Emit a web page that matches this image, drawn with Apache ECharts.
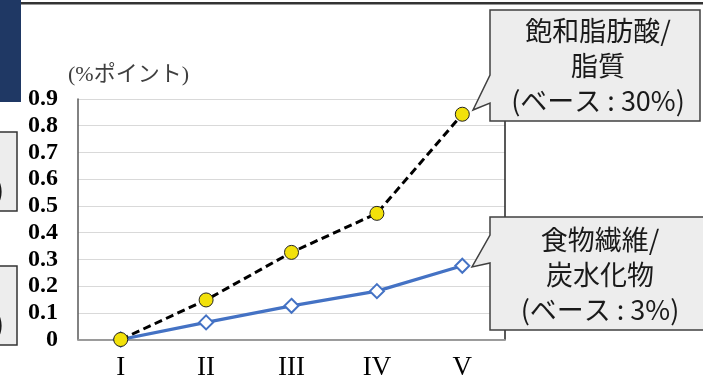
<!DOCTYPE html>
<html>
<head>
<meta charset="utf-8">
<script src="https://cdn.jsdelivr.net/npm/echarts@6/dist/echarts.min.js"></script>
<style>
  html, body { margin: 0; padding: 0; background: #fff; }
  #chart { width: 703px; height: 382px; }
</style>
</head>
<body>
<div id="chart"></div>
<script>
// Quintile categories and the two series (percentage-point change)
const categories = ['I', 'II', 'III', 'IV', 'V'];
const satFatShare = [0, 0.148, 0.326, 0.472, 0.843];   // 飽和脂肪酸/脂質
const fiberShare = [0, 0.064, 0.126, 0.181, 0.276];    // 食物繊維/炭水化物
const yTicks = { min: 0, max: 0.9, step: 0.1 };
const unitLabel = '(%ポイント)';
const calloutFat = '飽和脂肪酸/\n脂質\n(ベース : 30%)';
const calloutFiber = '食物繊維/\n炭水化物\n(ベース : 3%)';

const chart = echarts.init(document.getElementById('chart'));

const calloutStyle = { fill: '#EDEDED', stroke: '#404040', lineWidth: 1.5 };
const textStyle = {
  fontFamily: '"Noto Sans CJK JP", sans-serif',
  fontSize: 27,
  lineHeight: 35,
  fill: '#1a1a1a',
  align: 'center',
  verticalAlign: 'middle'
};

chart.setOption({
  animation: false,
  grid: { left: 78, top: 99, right: 198, bottom: 42.5, containLabel: false },
  xAxis: [{
    type: 'category',
    data: categories,
    boundaryGap: true,
    axisLine: { lineStyle: { color: '#8c8c8c', width: 1.5 } },
    axisTick: { show: false },
    axisLabel: {
      fontFamily: '"Liberation Serif", serif',
      fontSize: 27,
      color: '#000',
      margin: 15
    }
  }, {
    type: 'category',
    data: categories,
    position: 'top',
    boundaryGap: true,
    axisLine: { lineStyle: { color: '#999', width: 1.5 } },
    axisTick: { show: false },
    axisLabel: { show: false }
  }],
  yAxis: [{
    type: 'value',
    min: yTicks.min,
    max: yTicks.max,
    interval: yTicks.step,
    axisLine: { show: true, lineStyle: { color: '#595959', width: 1.5 } },
    axisTick: { show: false },
    splitLine: { lineStyle: { color: '#D9D9D9', width: 1.2 } },
    axisLabel: {
      fontFamily: '"Liberation Serif", serif',
      fontWeight: 'bold',
      fontSize: 24,
      color: '#000',
      margin: 20,
      formatter: v => (v === 0 ? '0' : v.toFixed(1))
    }
  }, {
    type: 'value',
    position: 'right',
    min: yTicks.min,
    max: yTicks.max,
    interval: yTicks.step,
    axisLine: { show: true, lineStyle: { color: '#222', width: 1.5 } },
    axisTick: { show: false },
    axisLabel: { show: false },
    splitLine: { show: false }
  }],
  series: [{
    name: '食物繊維/炭水化物',
    type: 'line',
    data: fiberShare,
    symbol: 'diamond',
    symbolSize: 14,
    lineStyle: { color: '#4472C4', width: 3.2 },
    itemStyle: { color: '#fff', borderColor: '#4472C4', borderWidth: 2 },
    z: 3
  }, {
    name: '飽和脂肪酸/脂質',
    type: 'line',
    data: satFatShare,
    symbol: 'circle',
    symbolSize: 14,
    lineStyle: { color: '#000', width: 3, type: [8, 4.5] },
    itemStyle: { color: '#F2E10A', borderColor: '#222', borderWidth: 1 },
    z: 4
  }],
  graphic: [
    // header rule and side tab
    { type: 'rect', shape: { x: 0, y: 2, width: 703, height: 2.5 }, style: { fill: '#333' }, z: 10 },
    { type: 'rect', shape: { x: 0, y: 0, width: 21, height: 102 }, style: { fill: '#1F3864' }, z: 11 },
    // partial boxes at the left edge
    { type: 'rect', shape: { x: -3, y: 132, width: 20, height: 79 }, style: { fill: '#EDEDED', stroke: '#333', lineWidth: 1.5 }, z: 10 },
    { type: 'rect', shape: { x: -3, y: 266, width: 20, height: 79 }, style: { fill: '#EDEDED', stroke: '#333', lineWidth: 1.5 }, z: 10 },
    { type: 'text', x: -5, y: 190, style: { text: ')', font: '27px "Noto Sans CJK JP"', fill: '#1a1a1a', verticalAlign: 'middle' }, z: 12 },
    { type: 'text', x: -5, y: 324, style: { text: ')', font: '27px "Noto Sans CJK JP"', fill: '#1a1a1a', verticalAlign: 'middle' }, z: 12 },
    // unit label
    { type: 'text', x: 68, y: 75, style: { text: unitLabel, fontFamily: '"Liberation Serif", "Noto Sans CJK JP", serif', fontSize: 22, fill: '#404040', verticalAlign: 'middle' }, z: 10 },
    // callout for saturated fat
    {
      type: 'polygon', z: 20,
      shape: { points: [[490, 10], [700, 10], [700, 121], [490, 121], [490, 103], [473, 110], [490, 75]] },
      style: calloutStyle
    },
    { type: 'text', x: 598, y: 66, z: 21, style: Object.assign({ text: calloutFat }, textStyle) },
    // callout for dietary fiber
    {
      type: 'polygon', z: 20,
      shape: { points: [[490, 217], [705, 217], [705, 330], [490, 330], [490, 263], [472, 267], [490, 235]] },
      style: calloutStyle
    },
    { type: 'text', x: 600, y: 275, z: 21, style: Object.assign({ text: calloutFiber }, textStyle) }
  ]
});
</script>
</body>
</html>
